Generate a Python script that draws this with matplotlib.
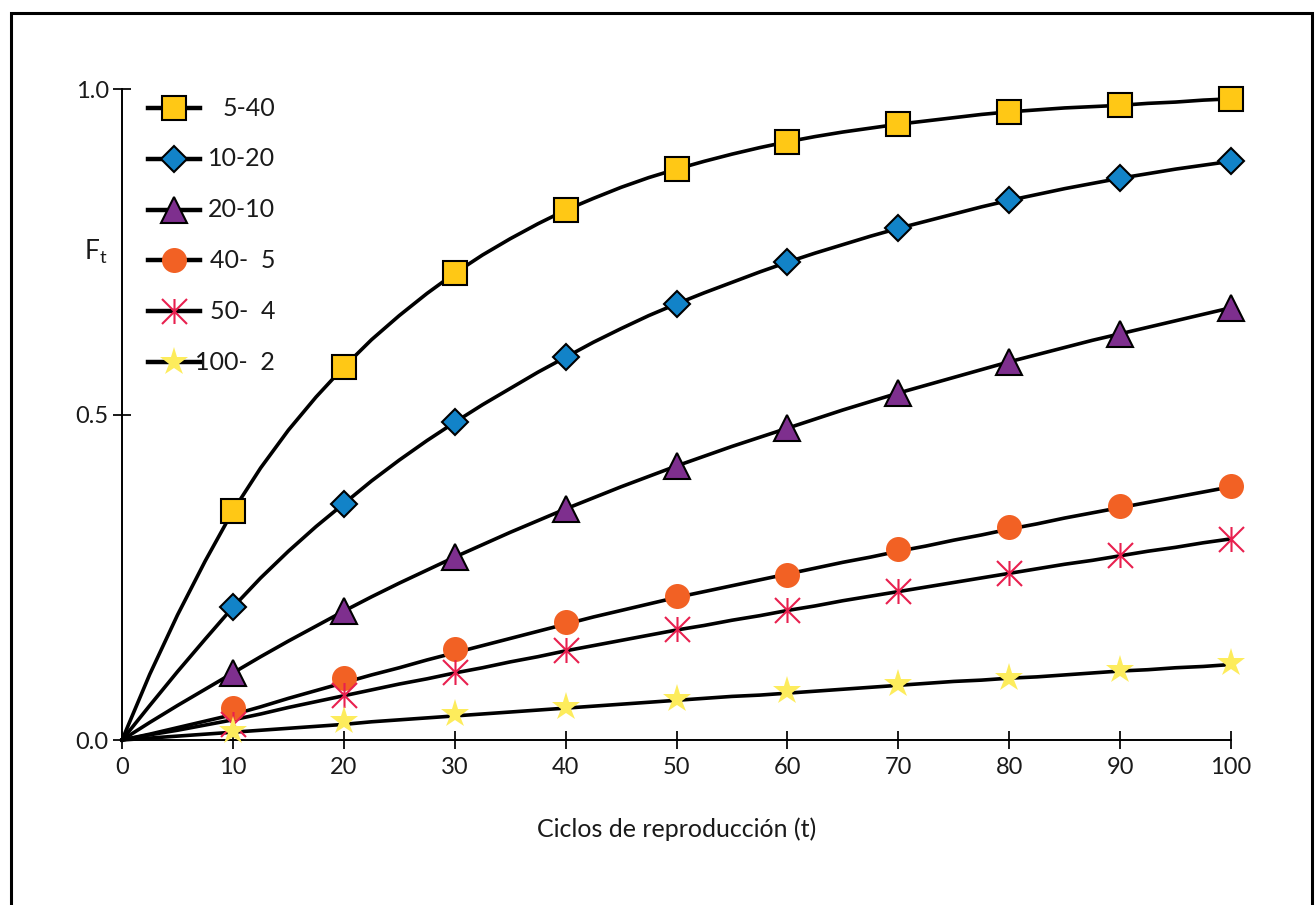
import numpy as np
import matplotlib
matplotlib.use("Agg")
import matplotlib.pyplot as plt
from matplotlib.path import Path
from matplotlib.patches import Rectangle

plt.rcParams["font.family"] = ["Lato", "DejaVu Sans"]

# ── data ────────────────────────────────────────────────
labels = ["5-40", "10-20", "20-10", "40-  5", "50-  4", "100-  2"]

t_pts = [10, 20, 30, 40, 50, 60, 70, 80, 90, 100]
pts_5_40   = [0.352, 0.573, 0.717, 0.814, 0.877, 0.919, 0.946, 0.965, 0.975, 0.985]
pts_10_20  = [0.204, 0.363, 0.488, 0.588, 0.670, 0.734, 0.786, 0.829, 0.863, 0.889]
pts_20_10  = [0.103, 0.198, 0.281, 0.355, 0.421, 0.479, 0.533, 0.581, 0.624, 0.664]
pts_40_5   = [0.049, 0.095, 0.140, 0.181, 0.221, 0.253, 0.293, 0.327, 0.359, 0.390]
pts_50_4   = [0.024, 0.069, 0.104, 0.138, 0.171, 0.200, 0.229, 0.257, 0.284, 0.309]
pts_100_2  = [0.014, 0.029, 0.040, 0.051, 0.063, 0.075, 0.086, 0.095, 0.108, 0.118]

# curves, every 2.5 cycles
t_line = [0, 2.5, 5, 7.5, 10, 12.5, 15, 17.5, 20, 22.5, 25, 27.5, 30, 32.5, 35, 37.5,
          40, 42.5, 45, 47.5, 50, 52.5, 55, 57.5, 60, 62.5, 65, 67.5, 70, 72.5, 75,
          77.5, 80, 82.5, 85, 87.5, 90, 92.5, 95, 97.5, 100]
line_5_40  = [0, 0.101, 0.192, 0.275, 0.352, 0.418, 0.476, 0.527, 0.573, 0.615, 0.652,
              0.686, 0.717, 0.745, 0.770, 0.793, 0.814, 0.832, 0.849, 0.864, 0.877,
              0.889, 0.900, 0.910, 0.919, 0.927, 0.934, 0.940, 0.946, 0.951, 0.956,
              0.961, 0.965, 0.968, 0.971, 0.973, 0.975, 0.978, 0.980, 0.983, 0.985]
line_10_20 = [0, 0.053, 0.105, 0.155, 0.204, 0.249, 0.290, 0.328, 0.363, 0.398, 0.430,
              0.460, 0.488, 0.515, 0.540, 0.565, 0.588, 0.611, 0.632, 0.652, 0.670,
              0.687, 0.703, 0.719, 0.734, 0.748, 0.761, 0.774, 0.786, 0.797, 0.808,
              0.819, 0.829, 0.838, 0.847, 0.855, 0.863, 0.870, 0.877, 0.883, 0.889]
line_20_10 = [0, 0.027, 0.053, 0.078, 0.103, 0.128, 0.152, 0.175, 0.198, 0.220, 0.241,
              0.261, 0.281, 0.300, 0.319, 0.337, 0.355, 0.372, 0.389, 0.405, 0.421,
              0.436, 0.451, 0.465, 0.479, 0.493, 0.507, 0.520, 0.533, 0.545, 0.557,
              0.569, 0.581, 0.592, 0.603, 0.614, 0.624, 0.634, 0.644, 0.654, 0.664]
line_40_5  = [0, 0.009, 0.019, 0.029, 0.039, 0.051, 0.064, 0.076, 0.088, 0.100, 0.111,
              0.123, 0.134, 0.145, 0.156, 0.167, 0.178, 0.189, 0.199, 0.209, 0.219,
              0.228, 0.237, 0.246, 0.255, 0.264, 0.273, 0.281, 0.290, 0.298, 0.307,
              0.315, 0.324, 0.332, 0.341, 0.349, 0.357, 0.365, 0.373, 0.381, 0.389]
line_50_4  = [0, 0.008, 0.015, 0.023, 0.031, 0.040, 0.050, 0.059, 0.068, 0.077, 0.086,
              0.094, 0.103, 0.111, 0.120, 0.128, 0.137, 0.145, 0.153, 0.161, 0.169,
              0.176, 0.184, 0.191, 0.199, 0.206, 0.214, 0.221, 0.228, 0.235, 0.242,
              0.249, 0.256, 0.263, 0.270, 0.276, 0.283, 0.290, 0.296, 0.303, 0.309]
line_100_2 = [0, 0.003, 0.006, 0.009, 0.012, 0.015, 0.018, 0.021, 0.024, 0.028, 0.031,
              0.034, 0.037, 0.040, 0.043, 0.046, 0.049, 0.052, 0.055, 0.058, 0.061,
              0.064, 0.067, 0.069, 0.072, 0.075, 0.078, 0.081, 0.084, 0.087, 0.090,
              0.092, 0.095, 0.097, 0.100, 0.103, 0.106, 0.108, 0.111, 0.113, 0.116]

x_ticks = [0, 10, 20, 30, 40, 50, 60, 70, 80, 90, 100]
y_ticks = [0.0, 0.5, 1.0]

# ── styles ──────────────────────────────────────────────
asterisk = Path([(-1, -1), (1, 1), (-1, 1), (1, -1), (0, -1), (0, 1)],
                [Path.MOVETO, Path.LINETO, Path.MOVETO, Path.LINETO,
                 Path.MOVETO, Path.LINETO])

styles = [
    dict(marker="s", ms=17, mfc="#FFC815", mec="black", mew=1.5),
    dict(marker="D", ms=13.5, mfc="#1283C8", mec="black", mew=1.5),
    dict(marker="^", ms=19, mfc="#7E2F8E", mec="black", mew=1.5),
    dict(marker="o", ms=18, mfc="#F26124", mec="#F26124", mew=0),
    dict(marker=asterisk, ms=18, mfc="none", mec="#E8204F", mew=1.5),
    dict(marker="*", ms=21, mfc="#FDEC5C", mec="#FDEC5C", mew=0),
]

lines = [line_5_40, line_10_20, line_20_10, line_40_5, line_50_4, line_100_2]
points = [pts_5_40, pts_10_20, pts_20_10, pts_40_5, pts_50_4, pts_100_2]
draw_order = [0, 1, 2, 4, 3, 5]

fig = plt.figure(figsize=(13.15, 9.05), dpi=100)
ax = fig.add_axes([0.0928, 0.1823, 0.8433, 0.7193])

for yl in lines:
    ax.plot(t_line, yl, color="black", lw=2.6, zorder=2, clip_on=False,
            solid_joinstyle="round")

for i in draw_order:
    ax.plot(t_pts, points[i], ls="none", zorder=3 + i, clip_on=False, **styles[i])

ax.set_xlim(0, 100)
ax.set_ylim(0, 1.0)
ax.set_xticks(x_ticks)
ax.set_yticks(y_ticks)
ax.set_yticklabels([f"{v:.1f}" for v in y_ticks])
for s in ["top", "right"]:
    ax.spines[s].set_visible(False)
for s in ["left", "bottom"]:
    ax.spines[s].set_linewidth(1.4)
ax.tick_params(direction="inout", length=13, width=1.4, labelsize=17,
               colors="#1a1a1a")
ax.tick_params(axis="x", pad=6)
ax.tick_params(axis="y", pad=3)

ax.set_xlabel("Ciclos de reproducción (t)", fontsize=18, labelpad=28, color="#1a1a1a")
ax.text(-0.024, 0.75, r"F$_\mathregular{t}$", transform=ax.transAxes,
        fontsize=19, ha="center", va="center", color="#1a1a1a")

# legend, drawn by hand so the labels are right-aligned
for i, lab in enumerate(labels):
    yy = (740 - (108 + 50.8 * i)) / 651
    ax.plot([0.0234, 0.0704], [yy, yy], color="black", lw=3.2,
            transform=ax.transAxes, clip_on=False, zorder=2)
    ax.plot([0.0469], [yy], transform=ax.transAxes, clip_on=False,
            ls="none", zorder=3, **styles[i])
    ax.text(0.138, yy, lab, transform=ax.transAxes, fontsize=18,
            ha="right", va="center", color="#1a1a1a")

# outer frame
fig.patches.append(Rectangle((0.0084, -0.05), 0.9893, 1.0356,
                             transform=fig.transFigure, fill=False,
                             lw=2.2, ec="black", clip_on=False))

fig.savefig("out.png", dpi=100)
